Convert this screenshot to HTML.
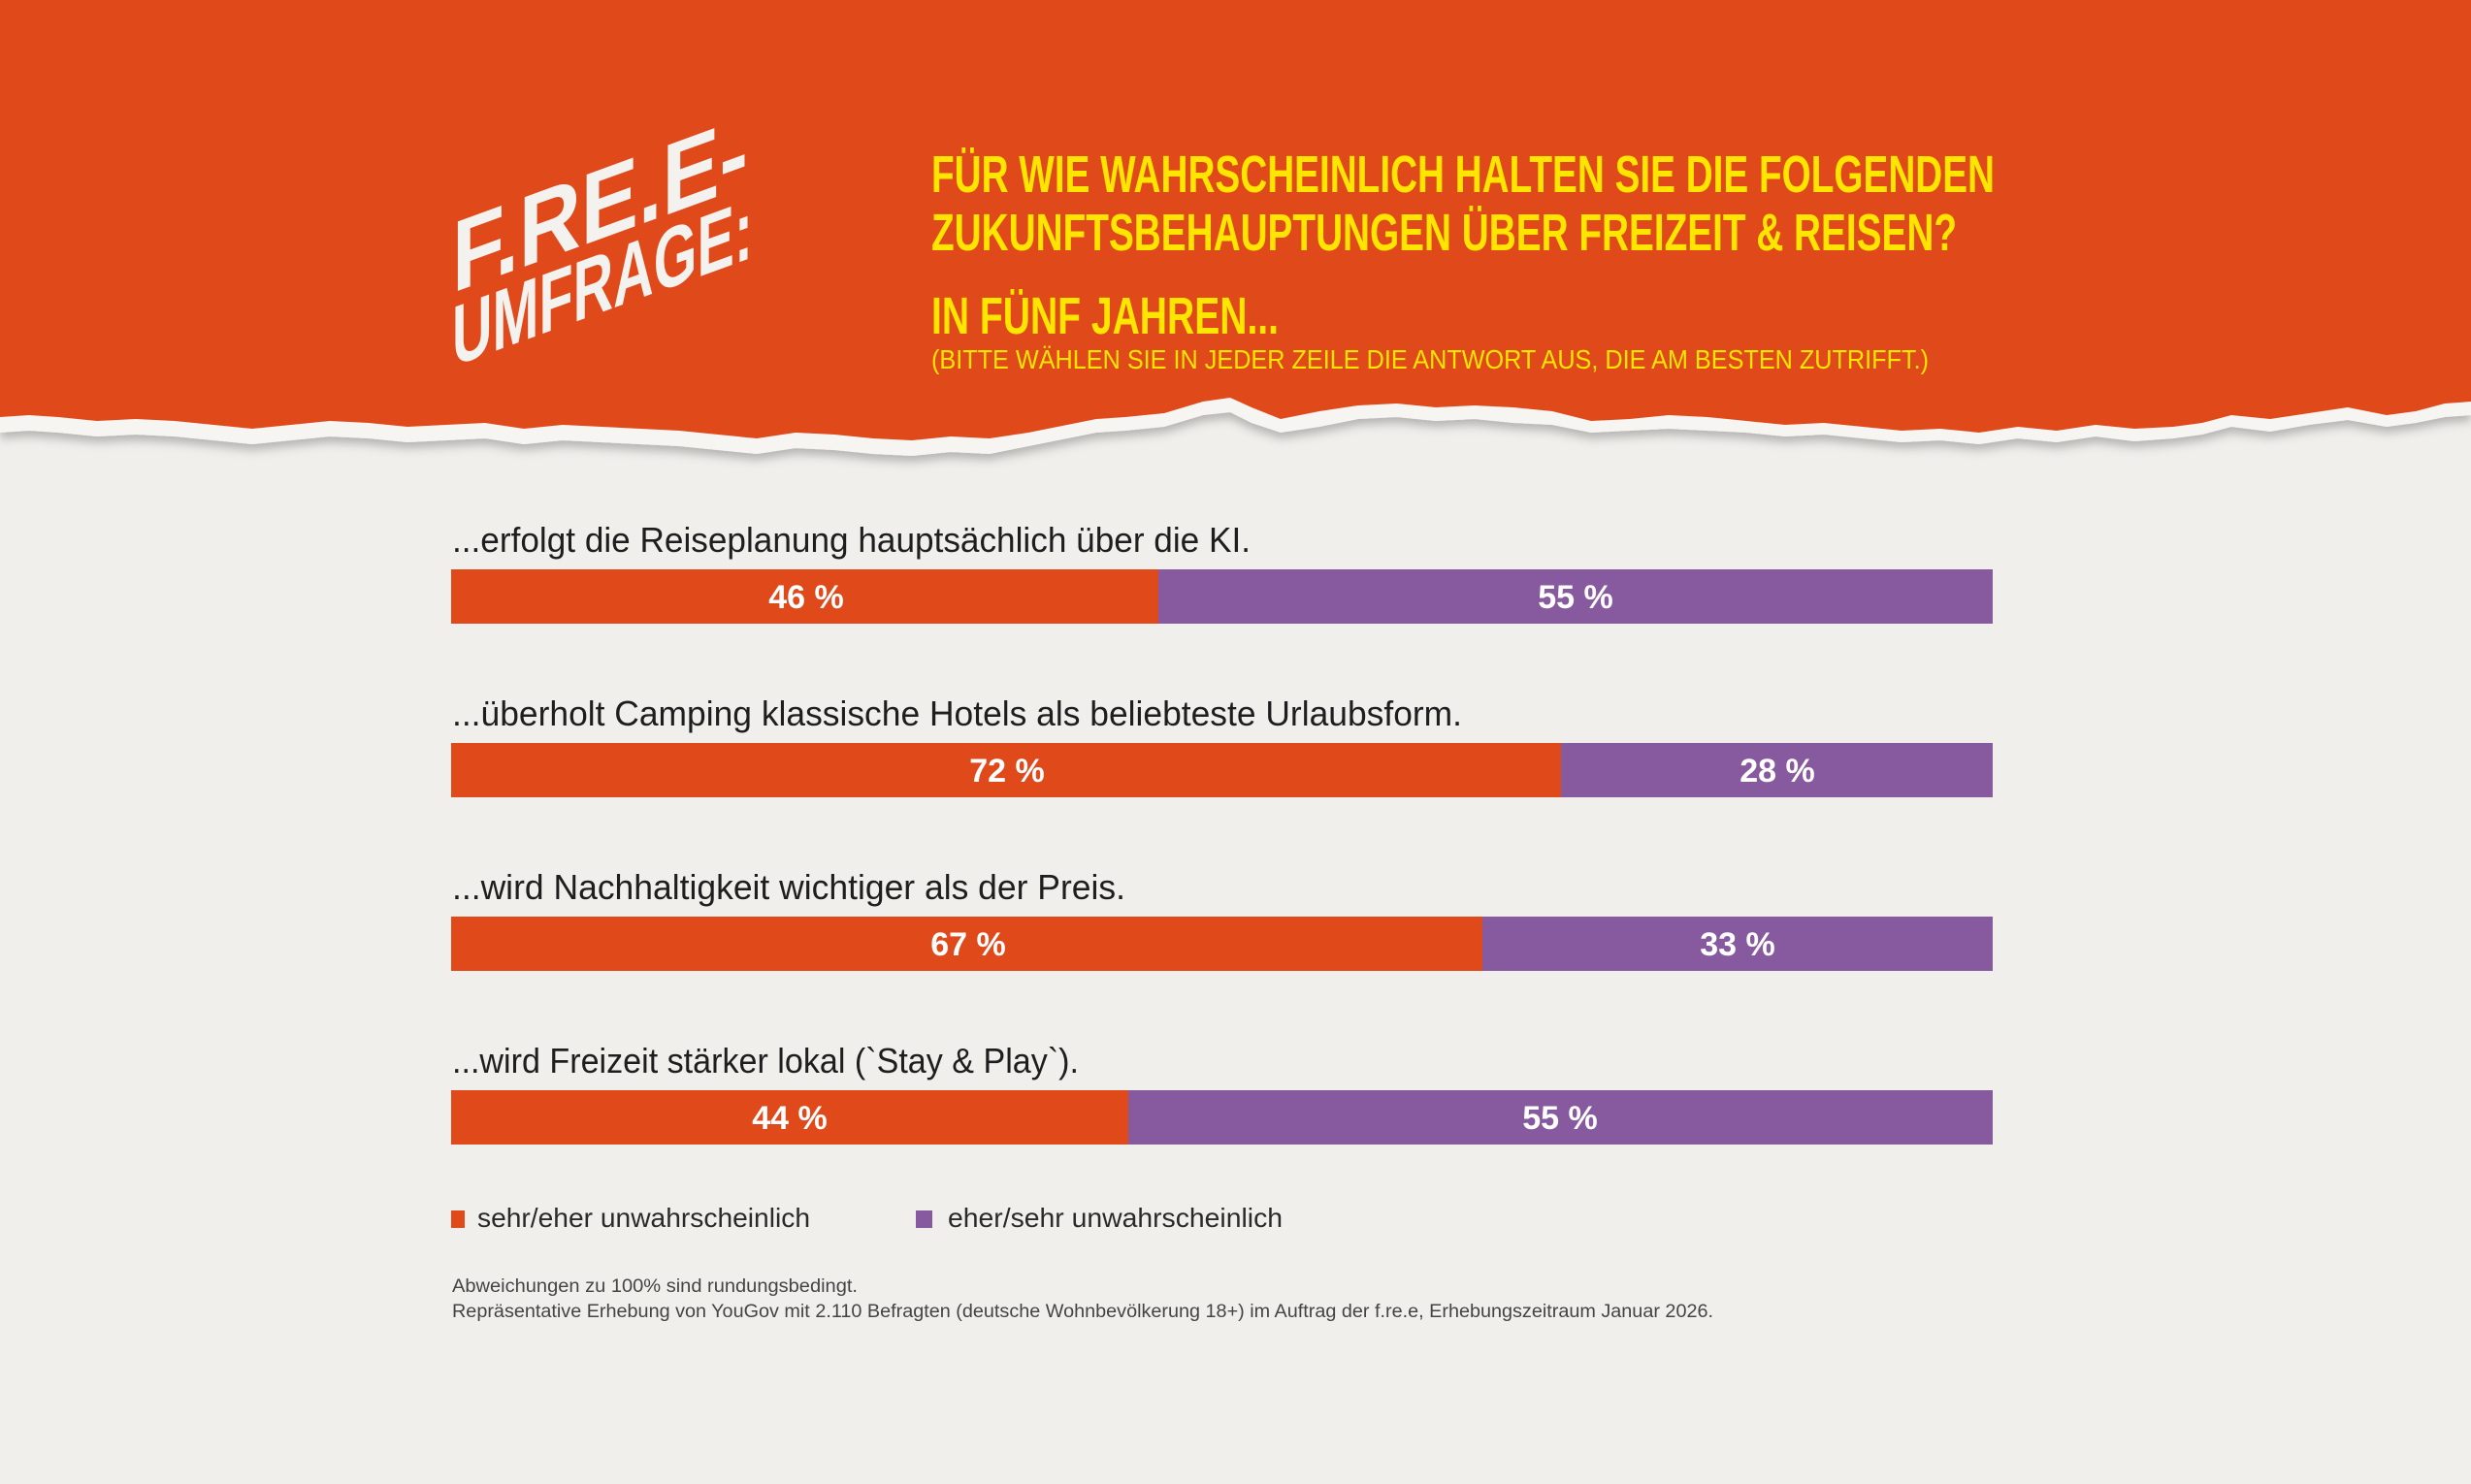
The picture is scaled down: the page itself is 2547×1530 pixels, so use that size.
<!DOCTYPE html>
<html><head><meta charset="utf-8"><style>
html,body{margin:0;padding:0;background:#F0EFEC;}
svg{display:block;}
</style></head><body>
<svg width="2547" height="1530" viewBox="0 0 2547 1530" xmlns="http://www.w3.org/2000/svg">
<defs>
<filter id="sh" x="-5%" y="-20%" width="110%" height="150%"><feDropShadow dx="0" dy="6" stdDeviation="5" flood-color="#000" flood-opacity="0.25"/></filter>
</defs>
<rect width="2547" height="1530" fill="#F0EFEC"/>
<path filter="url(#sh)" fill="#F6F5F2" d="M0,0 H2547 V428 L2520,430 2490,436 2460,440 2420,433 2380,438 2340,445 2300,440 2270,448 2240,452 2200,455 2160,450 2120,456 2080,452 2040,458 2000,454 1960,456 1920,452 1880,448 1840,450 1800,446 1760,444 1720,442 1680,444 1640,446 1600,438 1560,436 1520,432 1480,434 1440,430 1400,432 1360,440 1320,446 1290,436 1268,425 1240,428 1200,440 1160,444 1130,446 1100,452 1060,460 1020,468 980,466 940,470 900,468 860,464 820,462 780,468 740,464 700,460 660,458 620,456 580,454 540,458 500,452 460,454 420,456 380,452 340,450 300,454 260,458 220,454 180,450 140,448 100,450 60,446 30,444 0,446 Z"/>
<path fill="#E04A1B" d="M0,0 H2547 V414 L2520,416 2490,424 2460,428 2420,420 2380,426 2340,432 2300,428 2270,436 2240,440 2200,442 2160,438 2120,444 2080,440 2040,446 2000,442 1960,444 1920,440 1880,436 1840,438 1800,434 1760,430 1720,428 1680,432 1640,434 1600,424 1560,420 1520,418 1480,420 1440,416 1400,418 1360,424 1320,432 1290,420 1268,410 1240,414 1200,426 1160,430 1130,432 1100,438 1060,446 1020,452 980,450 940,454 900,452 860,448 820,446 780,452 740,448 700,444 660,442 620,440 580,438 540,442 500,436 460,438 420,440 380,436 340,434 300,438 260,442 220,438 180,434 140,432 100,434 60,430 30,428 0,430 Z"/>
<g fill="#F4F2EE" font-family="Liberation Sans, sans-serif" font-weight="bold">
<text transform="translate(466,302) skewY(-20)" font-size="104" textLength="305" lengthAdjust="spacingAndGlyphs">F.RE.E-</text>
<text transform="translate(466,378) skewY(-20)" font-size="88" textLength="310" lengthAdjust="spacingAndGlyphs">UMFRAGE:</text>
</g>
<g fill="#FFE500" font-family="Liberation Sans, sans-serif" font-weight="bold">
<text x="960" y="198" font-size="54" textLength="1096" lengthAdjust="spacingAndGlyphs">FÜR WIE WAHRSCHEINLICH HALTEN SIE DIE FOLGENDEN</text>
<text x="960" y="258" font-size="54" textLength="1057" lengthAdjust="spacingAndGlyphs">ZUKUNFTSBEHAUPTUNGEN ÜBER FREIZEIT &amp; REISEN?</text>
<text x="960" y="344" font-size="54" textLength="358" lengthAdjust="spacingAndGlyphs">IN FÜNF JAHREN...</text>
<text x="960" y="380" font-size="28" font-weight="normal" textLength="1028" lengthAdjust="spacingAndGlyphs">(BITTE WÄHLEN SIE IN JEDER ZEILE DIE ANTWORT AUS, DIE AM BESTEN ZUTRIFFT.)</text>
</g>
<g fill="#1e1e1e" font-family="Liberation Sans, sans-serif" font-size="36">
<text x="466" y="569" textLength="823" lengthAdjust="spacingAndGlyphs">...erfolgt die Reiseplanung hauptsächlich über die KI.</text>
<text x="466" y="748" textLength="1041" lengthAdjust="spacingAndGlyphs">...überholt Camping klassische Hotels als beliebteste Urlaubsform.</text>
<text x="466" y="927" textLength="694" lengthAdjust="spacingAndGlyphs">...wird Nachhaltigkeit wichtiger als der Preis.</text>
<text x="466" y="1106" textLength="646" lengthAdjust="spacingAndGlyphs">...wird Freizeit stärker lokal (`Stay &amp; Play`).</text>
</g>
<g>
<rect x="465" y="587" width="729" height="56" fill="#E04A1B"/><rect x="1194" y="587" width="860" height="56" fill="#87599E"/>
<rect x="465" y="766" width="1144" height="56" fill="#E04A1B"/><rect x="1609" y="766" width="445" height="56" fill="#87599E"/>
<rect x="465" y="945" width="1063" height="56" fill="#E04A1B"/><rect x="1528" y="945" width="526" height="56" fill="#87599E"/>
<rect x="465" y="1124" width="698" height="56" fill="#E04A1B"/><rect x="1163" y="1124" width="891" height="56" fill="#87599E"/>
</g>
<g fill="#fff" font-family="Liberation Sans, sans-serif" font-weight="bold" font-size="34" text-anchor="middle">
<text x="831" y="627">46 %</text><text x="1624" y="627">55 %</text>
<text x="1038" y="806">72 %</text><text x="1832" y="806">28 %</text>
<text x="998" y="985">67 %</text><text x="1791" y="985">33 %</text>
<text x="814" y="1164">44 %</text><text x="1608" y="1164">55 %</text>
</g>
<rect x="465" y="1248" width="14" height="18" fill="#E04A1B"/>
<rect x="944" y="1248" width="17" height="18" fill="#87599E"/>
<g fill="#2a2a2a" font-family="Liberation Sans, sans-serif" font-size="28">
<text x="492" y="1265" textLength="343" lengthAdjust="spacingAndGlyphs">sehr/eher unwahrscheinlich</text>
<text x="977" y="1265" textLength="345" lengthAdjust="spacingAndGlyphs">eher/sehr unwahrscheinlich</text>
</g>
<g fill="#444" font-family="Liberation Sans, sans-serif" font-size="19">
<text x="466" y="1332" textLength="418" lengthAdjust="spacingAndGlyphs">Abweichungen zu 100% sind rundungsbedingt.</text>
<text x="466" y="1358" textLength="1300" lengthAdjust="spacingAndGlyphs">Repräsentative Erhebung von YouGov mit 2.110 Befragten (deutsche Wohnbevölkerung 18+) im Auftrag der f.re.e, Erhebungszeitraum Januar 2026.</text>
</g>
</svg>
</body></html>
